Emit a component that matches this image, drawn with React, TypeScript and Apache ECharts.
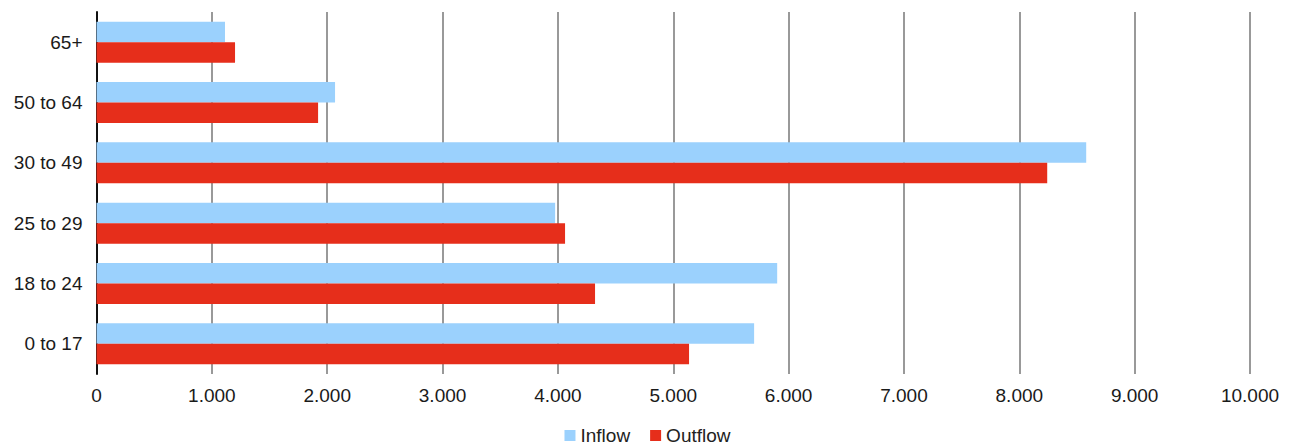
import React, { useEffect, useRef } from "react";
import * as echarts from "echarts";

// Age groups, bottom to top
const ageGroups = ["0 to 17", "18 to 24", "25 to 29", "30 to 49", "50 to 64", "65+"];
const inflow = [5701, 5901, 3976, 8580, 2068, 1114];
const outflow = [5137, 4322, 4062, 8242, 1921, 1201];
const xTicks = [0, 1000, 2000, 3000, 4000, 5000, 6000, 7000, 8000, 9000, 10000];

const FONT = '"Liberation Sans", Arial, Helvetica, sans-serif';

const formatThousands = (v: number) =>
  String(Math.round(v)).replace(/\B(?=(\d{3})+(?!\d))/g, ".");

export default function App() {
  const ref = useRef<HTMLDivElement>(null);

  useEffect(() => {
    if (!ref.current) return;
    const chart = echarts.init(ref.current, null, { renderer: "svg" });
    chart.setOption({
      animation: false,
      textStyle: { fontFamily: FONT },
      grid: { left: 96.5, right: 45, top: 12, bottom: 74, containLabel: false },
      legend: {
        bottom: -2,
        left: "center",
        itemWidth: 11,
        itemHeight: 11,
        itemGap: 20,
        icon: "rect",
        data: ["Inflow", "Outflow"],
        textStyle: { fontSize: 19, color: "#222", fontFamily: FONT },
      },
      xAxis: {
        type: "value",
        min: xTicks[0],
        max: xTicks[xTicks.length - 1],
        interval: 1000,
        axisLine: { show: false },
        axisTick: { show: false },
        splitLine: { show: true, lineStyle: { color: "#999", width: 2 } },
        axisLabel: {
          fontSize: 19,
          color: "#1a1a1a",
          margin: 12,
          fontFamily: FONT,
          formatter: (v: number) => formatThousands(v),
        },
      },
      yAxis: {
        type: "category",
        data: ageGroups,
        axisLine: { show: true, lineStyle: { color: "#111", width: 2 } },
        axisTick: { show: false },
        axisLabel: { fontSize: 19, color: "#1a1a1a", margin: 14, fontFamily: FONT },
      },
      series: [
        {
          name: "Inflow",
          type: "bar",
          data: inflow,
          barGap: "0%",
          barCategoryGap: "32%",
          itemStyle: { color: "#9bd1fd" },
        },
        {
          name: "Outflow",
          type: "bar",
          data: outflow,
          barGap: "0%",
          barCategoryGap: "32%",
          itemStyle: { color: "#e62e1b" },
        },
      ],
    });
    return () => chart.dispose();
  }, []);

  return (
    <div
      ref={ref}
      style={{ position: "fixed", left: 0, top: 0, width: 1295, height: 448, background: "#fff" }}
    />
  );
}
